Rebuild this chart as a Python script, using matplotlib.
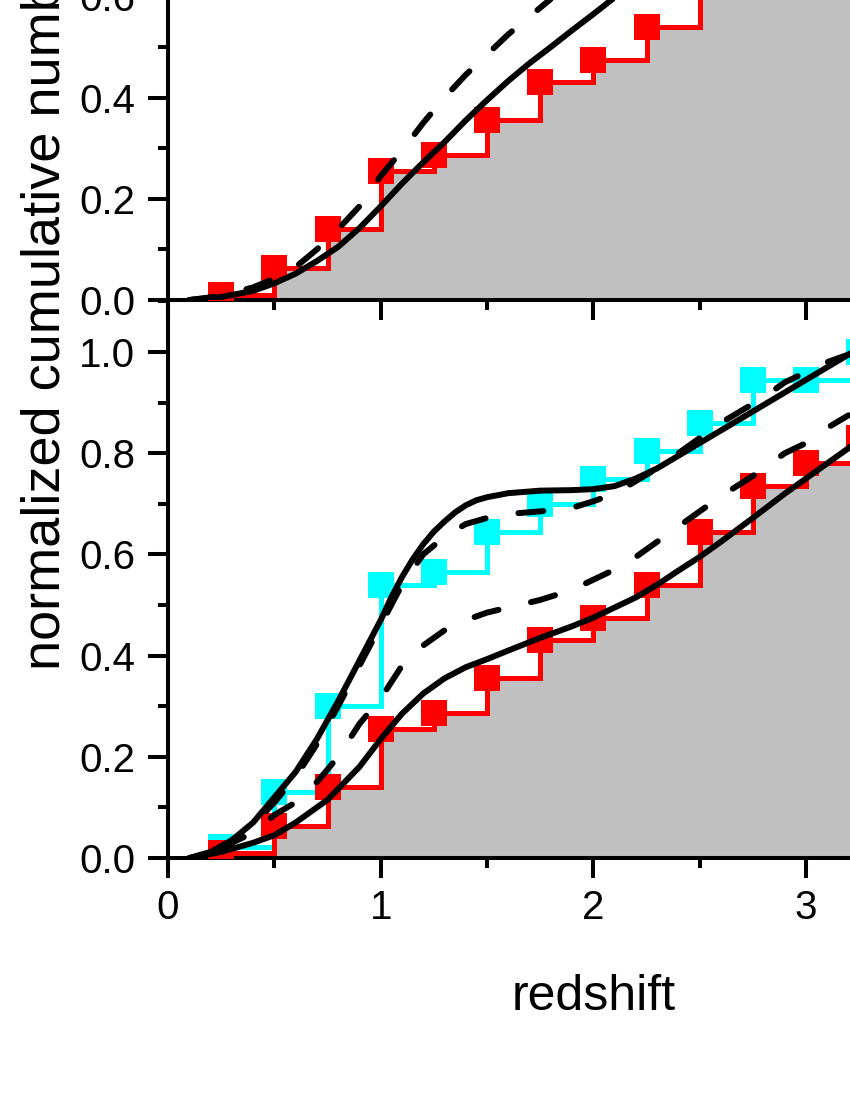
import matplotlib
matplotlib.use("Agg")
import matplotlib.pyplot as plt
from matplotlib.ticker import MultipleLocator, FormatStrFormatter

plt.rcParams['font.family'] = ['Liberation Sans', 'DejaVu Sans']
plt.rcParams['lines.scale_dashes'] = False

# ---------------- data ----------------
bin_z = [0.25, 0.5, 0.75, 1.0, 1.25, 1.5, 1.75, 2.0, 2.25, 2.5, 2.75, 3.0, 3.25]
red_cum = [0.01, 0.063, 0.14, 0.255, 0.287, 0.355, 0.43, 0.475, 0.54, 0.645, 0.735, 0.78, 0.83]
cyan_cum = [0.022, 0.13, 0.30, 0.54, 0.565, 0.645, 0.70, 0.75, 0.805, 0.86, 0.945, 0.945, 1.0]

# top panel model curves
top_solid_z = [0.10, 0.25, 0.40, 0.50, 0.60, 0.70, 0.80, 0.90, 1.00, 1.10, 1.20, 1.30, 1.40,
               1.50, 1.60, 1.70, 1.80, 1.90, 2.00, 2.10, 2.20]
top_solid_f = [0.0, 0.006, 0.018, 0.033, 0.052, 0.077, 0.105, 0.142, 0.185, 0.23, 0.272, 0.312,
               0.355, 0.395, 0.433, 0.468, 0.50, 0.533, 0.565, 0.598, 0.63]
top_dash_z = [0.10, 0.25, 0.40, 0.50, 0.60, 0.70, 0.80, 0.90, 1.00, 1.10, 1.20, 1.30, 1.40,
              1.50, 1.60, 1.70, 1.80]
top_dash_f = [0.0, 0.008, 0.025, 0.042, 0.065, 0.10, 0.14, 0.185, 0.245, 0.295, 0.35, 0.40,
              0.445, 0.485, 0.525, 0.56, 0.595]

# bottom panel model curves
up_solid_z = [0.10, 0.20, 0.30, 0.40, 0.50, 0.60, 0.70, 0.80, 0.90, 1.00, 1.05, 1.10, 1.15,
              1.20, 1.25, 1.30, 1.35, 1.40, 1.45, 1.50, 1.60, 1.75, 1.90, 2.00, 2.10, 2.20,
              2.30, 2.40, 2.50, 2.60, 2.70, 2.80, 2.90, 3.00, 3.10, 3.20, 3.30]
up_solid_f = [0.0, 0.012, 0.035, 0.07, 0.12, 0.17, 0.235, 0.31, 0.39, 0.47, 0.515, 0.555, 0.59,
              0.62, 0.645, 0.665, 0.683, 0.697, 0.707, 0.713, 0.721, 0.726, 0.727, 0.729,
              0.735, 0.75, 0.77, 0.795, 0.82, 0.845, 0.87, 0.895, 0.92, 0.945, 0.97, 0.995, 1.02]
up_dash_z = [0.25, 0.40, 0.50, 0.60, 0.70, 0.80, 0.90, 1.00, 1.10, 1.20, 1.30, 1.40, 1.50, 1.60,
             1.75, 1.90, 2.00, 2.10, 2.20, 2.30, 2.40, 2.50, 2.60, 2.70, 2.80, 2.90, 3.00,
             3.10, 3.20]
up_dash_f = [0.02, 0.065, 0.11, 0.16, 0.225, 0.30, 0.38, 0.46, 0.54, 0.60, 0.635, 0.66, 0.672,
             0.68, 0.685, 0.692, 0.705, 0.72, 0.745, 0.77, 0.80, 0.83, 0.86, 0.885, 0.91, 0.94,
             0.96, 0.98, 0.995]
low_solid_z = [0.10, 0.25, 0.40, 0.50, 0.60, 0.75, 0.90, 1.00, 1.10, 1.20, 1.30, 1.40, 1.50,
               1.60, 1.75, 1.90, 2.00, 2.10, 2.20, 2.30, 2.40, 2.50, 2.60, 2.75, 2.90, 3.00,
               3.10, 3.20, 3.30]
low_solid_f = [0.0, 0.012, 0.03, 0.045, 0.07, 0.115, 0.18, 0.235, 0.285, 0.325, 0.355, 0.377,
               0.393, 0.41, 0.435, 0.458, 0.475, 0.495, 0.515, 0.54, 0.568, 0.595, 0.625, 0.672,
               0.72, 0.75, 0.78, 0.81, 0.84]
low_dash_z = [0.25, 0.40, 0.50, 0.60, 0.70, 0.80, 0.90, 1.00, 1.10, 1.20, 1.30, 1.40, 1.50, 1.60,
              1.75, 1.90, 2.00, 2.10, 2.20, 2.30, 2.40, 2.50, 2.60, 2.75, 2.90, 3.00, 3.10, 3.20]
low_dash_f = [0.02, 0.05, 0.085, 0.11, 0.15, 0.20, 0.265, 0.315, 0.38, 0.42, 0.45, 0.47, 0.485,
              0.495, 0.51, 0.53, 0.55, 0.57, 0.595, 0.625, 0.655, 0.685, 0.715, 0.755, 0.80,
              0.82, 0.85, 0.875]

x_labels = ['0', '1', '2', '3']

# ---------------- style ----------------
W, H = 850, 1100
GREY = '#c0c0c0'
RED = '#ff0000'
CYAN = '#00ffff'
STEP_LW = 3.6
CURVE_LW = 4.3
MS = 19
DASH = (0, (18, 24))

fig = plt.figure(figsize=(W / 100, H / 100), dpi=100)
x0 = 168
ppu_x = 212.67
ax_w = 4 * ppu_x
ax_h = 558
ax_b = fig.add_axes([x0 / W, (H - 858) / H, ax_w / W, ax_h / H])
ax_t = fig.add_axes([x0 / W, (H - 300) / H, ax_w / W, ax_h / H])


def draw_steps(ax, z, f, color, z0):
    ax.step(z, f, where='post', color=color, lw=STEP_LW, zorder=z0,
            solid_joinstyle='miter')
    ax.plot(z, f, 's', color=color, ms=MS, mew=0, zorder=z0)


for ax in (ax_t, ax_b):
    ax.fill_between(bin_z, red_cum, 0, step='post', color=GREY, lw=0, zorder=1)
    ax.set_xlim(0, 4)
    ax.set_ylim(0, 558 / 506)
    ax.xaxis.set_major_locator(MultipleLocator(1))
    ax.xaxis.set_minor_locator(MultipleLocator(0.5))
    ax.yaxis.set_major_locator(MultipleLocator(0.2))
    ax.yaxis.set_minor_locator(MultipleLocator(0.1))
    ax.yaxis.set_major_formatter(FormatStrFormatter('%.1f'))
    ax.tick_params(which='major', direction='out', length=14.5, width=2.9,
                   labelsize=29, pad=9, color='black')
    ax.tick_params(which='minor', direction='out', length=7.5, width=2.9)
    ax.tick_params(axis='x', pad=8)
    ax.tick_params(top=False, right=False, which='both')
    for s in ax.spines.values():
        s.set_linewidth(2.9)

# top panel
draw_steps(ax_t, bin_z, red_cum, RED, 3)
ax_t.plot(top_solid_z, top_solid_f, color='black', lw=CURVE_LW, zorder=4,
          solid_capstyle='round', solid_joinstyle='round')
ax_t.plot(top_dash_z, top_dash_f, color='black', lw=CURVE_LW, ls=DASH, zorder=4,
          dash_capstyle='round')
ax_t.tick_params(labelbottom=False)

# bottom panel
draw_steps(ax_b, bin_z, cyan_cum, CYAN, 2)
draw_steps(ax_b, bin_z, red_cum, RED, 3)
for zz, ff in ((up_solid_z, up_solid_f), (low_solid_z, low_solid_f)):
    ax_b.plot(zz, ff, color='black', lw=CURVE_LW, zorder=4, solid_capstyle='round',
              solid_joinstyle='round')
for zz, ff in ((up_dash_z, up_dash_f), (low_dash_z, low_dash_f)):
    ax_b.plot(zz, ff, color='black', lw=CURVE_LW, ls=DASH, zorder=4,
              dash_capstyle='round')
ax_b.set_xticks(range(len(x_labels)))
ax_b.set_xticklabels(x_labels)

fig.text(594 / W, (H - 1010) / H, 'redshift', fontsize=36, ha='center', va='baseline')
fig.text(60 / W, (H - 670) / H, 'normalized cumulative number', fontsize=39,
         rotation=90, rotation_mode='anchor', ha='left', va='baseline')

fig.savefig('out.png', dpi=100)
